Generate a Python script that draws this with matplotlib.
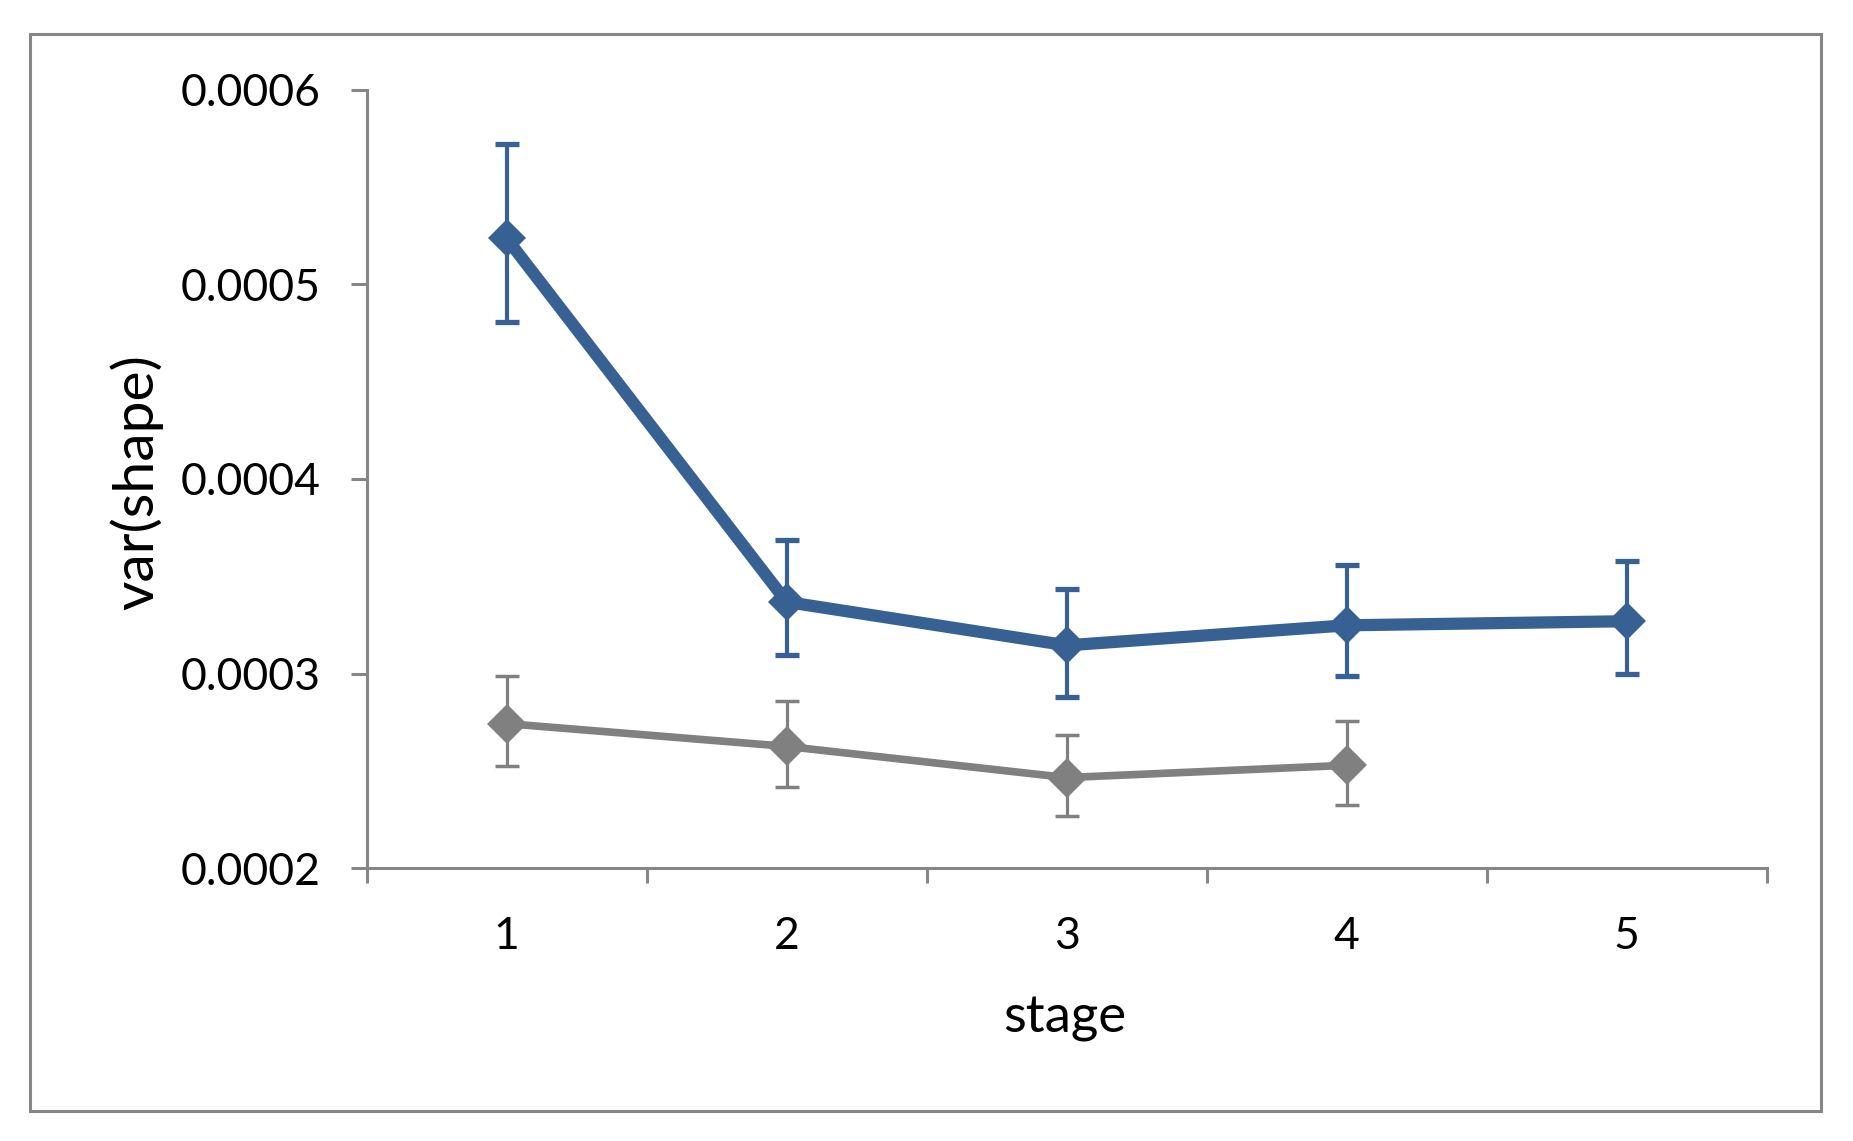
import numpy as np
import matplotlib.pyplot as plt
from matplotlib.ticker import FormatStrFormatter, FixedLocator
from matplotlib.patches import Rectangle

# values
stage = [1, 2, 3, 4, 5]
blue_var = [0.0005235, 0.0003368, 0.0003145, 0.0003248, 0.0003269]
blue_hi = [0.0005720, 0.0003684, 0.0003433, 0.0003558, 0.0003576]
blue_lo = [0.0004804, 0.0003094, 0.0002880, 0.0002988, 0.0002998]

gray_stage = [1, 2, 3, 4]
gray_var = [0.0002743, 0.0002626, 0.0002466, 0.0002529]
gray_hi = [0.0002988, 0.0002858, 0.0002684, 0.0002759]
gray_lo = [0.0002524, 0.0002417, 0.0002267, 0.0002327]

y_ticks = [0.0002, 0.0003, 0.0004, 0.0005, 0.0006]

plt.rcParams['font.family'] = ['Lato', 'DejaVu Sans']
W, H = 1853, 1141
axis_col = '#868686'
blue = '#386193'
gray = '#808080'

fig = plt.figure(figsize=(W / 100, H / 100), dpi=100)
# outer chart frame
fig.patches.append(Rectangle((30 / W, 1 - 1111 / H), (1821 - 30) / W, (1111 - 34) / H,
                             transform=fig.transFigure, fill=False,
                             edgecolor=axis_col, linewidth=2.2))

ax = fig.add_axes([366.7 / W, 1 - 868.3 / H, 1400 / W, (868.3 - 89.5) / H])

g_err = [np.array(gray_var) - np.array(gray_lo), np.array(gray_hi) - np.array(gray_var)]
b_err = [np.array(blue_var) - np.array(blue_lo), np.array(blue_hi) - np.array(blue_var)]

# error bars first, then lines with diamond markers
ax.errorbar(gray_stage, gray_var, yerr=g_err, fmt='none', ecolor=gray,
            elinewidth=2.3, capsize=8.5, capthick=2.5, zorder=2)
ax.plot(gray_stage, gray_var, color=gray, lw=5.5, marker='D', ms=20.5, mew=0, zorder=3)
ax.errorbar(stage, blue_var, yerr=b_err, fmt='none', ecolor=blue,
            elinewidth=3, capsize=8.5, capthick=3.8, zorder=4)
ax.plot(stage, blue_var, color=blue, lw=8.8, marker='D', ms=19.5, mew=0, zorder=5)

ax.set_xlim(0.5, 5.5)
ax.set_ylim(0.0002, 0.0006)
ax.set_yticks(y_ticks)
ax.yaxis.set_major_formatter(FormatStrFormatter('%.4f'))
ax.set_xticks(stage)
ax.xaxis.set_minor_locator(FixedLocator([0.5, 1.5, 2.5, 3.5, 4.5, 5.5]))

for s in ['top', 'right']:
    ax.spines[s].set_visible(False)
for s in ['left', 'bottom']:
    ax.spines[s].set_color(axis_col)
    ax.spines[s].set_linewidth(2.2)

ax.tick_params(axis='y', which='major', direction='out', length=11.5, width=2.2,
               color=axis_col, pad=22, labelsize=32)
ax.tick_params(axis='x', which='major', length=0, pad=34, labelsize=32)
ax.tick_params(axis='x', which='minor', direction='out', length=11, width=2.2,
               color=axis_col)

fig.text(1065 / W, 1 - 1032 / H, 'stage', ha='center', va='baseline', fontsize=38)
fig.text(136 / W, 1 - 482 / H, 'var(shape)', ha='center', va='center',
         rotation=90, fontsize=41)

fig.savefig('out.png', dpi=100)
